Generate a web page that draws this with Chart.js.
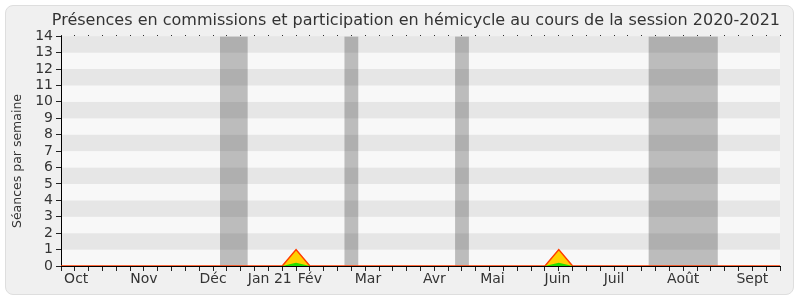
<!DOCTYPE html>
<html>
<head>
<meta charset="utf-8">
<script src="https://cdn.jsdelivr.net/npm/chart.js@4/dist/chart.umd.min.js"></script>
<style>
  html, body { margin: 0; padding: 0; background: #ffffff; }
  #wrap { position: relative; width: 800px; height: 300px; }
  #frame { position: absolute; left: 5px; top: 5px; width: 787px; height: 288px;
           background: #f0f0f0; border: 1px solid #dedede; border-radius: 8px; }
  #c { position: absolute; left: 0; top: 0; }
</style>
</head>
<body>
<div id="wrap">
  <div id="frame"></div>
  <canvas id="c" width="800" height="300"></canvas>
</div>
<script>
// Weeks of the 2020-2021 session, numbered from the first week of October.
const weekIndex = Array.from({ length: 53 }, (_, i) => i);

// Sessions attended per week (commissions + hémicycle)
const presences = [0,0,0,0,0,0,0,0,0,0,0,0,0,0,0,0,0,1,0,0,0,0,0,0,0,0,0,
                   0,0,0,0,0,0,0,0,0,1,0,0,0,0,0,0,0,0,0,0,0,0,0,0,0,0];
// Interventions in the hémicycle per week
const participations = [0,0,0,0,0,0,0,0,0,0,0,0,0,0,0,0,0,0.2,0,0,0,0,0,0,0,0,0,
                        0,0,0,0,0,0,0,0,0,0.2,0,0,0,0,0,0,0,0,0,0,0,0,0,0,0,0];
// Parliamentary recess weeks
const vacances = [12, 13, 21, 29, 43, 44, 45, 46, 47];

// Month labels and where they sit on the week axis
const moisLabels = ['Oct', 'Nov', 'Déc', 'Jan 21', 'Fév', 'Mar', 'Avr', 'Mai', 'Juin', 'Juil', 'Août', 'Sept'];
const moisPos = [1.1, 6, 11, 15.1, 18, 22.2, 27, 31.2, 35.9, 40, 45, 50];

const yTicks = [0,1,2,3,4,5,6,7,8,9,10,11,12,13,14];
const Y_MAX = 14;

const FONT = 'DejaVu Sans';
const TEXT = '#333333';

// Alternating horizontal bands behind the data
const bandsPlugin = {
  id: 'bands',
  beforeDraw(chart) {
    const { ctx, chartArea, scales } = chart;
    const y = scales.y;
    ctx.save();
    for (let i = 0; i < yTicks.length - 1; i++) {
      const top = y.getPixelForValue(yTicks[i + 1]);
      const bot = y.getPixelForValue(yTicks[i]);
      ctx.fillStyle = (i % 2 === 0) ? '#f8f8f8' : '#e6e6e6';
      ctx.fillRect(chartArea.left, top, chartArea.right - chartArea.left, bot - top);
    }
    ctx.restore();
  }
};

// Vertical axis title
const yTitlePlugin = {
  id: 'yTitle',
  afterDraw(chart) {
    const { ctx } = chart;
    ctx.save();
    ctx.translate(18, 161);
    ctx.rotate(-Math.PI / 2);
    ctx.font = '12.5px "' + FONT + '"';
    ctx.fillStyle = TEXT;
    ctx.textAlign = 'center';
    ctx.textBaseline = 'middle';
    ctx.fillText('Séances par semaine', 0, 0);
    ctx.restore();
  }
};

new Chart(document.getElementById('c'), {
  type: 'line',
  data: {
    datasets: [
      {
        label: 'Participation en hémicycle',
        data: weekIndex.map(i => ({ x: i, y: participations[i] })),
        borderWidth: 0,
        backgroundColor: '#22dd00',
        fill: 'origin',
        pointRadius: 0,
        tension: 0,
        order: 1
      },
      {
        label: 'Présences',
        data: weekIndex.map(i => ({ x: i, y: presences[i] })),
        borderColor: '#ff3c00',
        borderWidth: 1.5,
        backgroundColor: '#ffd000',
        fill: 'origin',
        pointRadius: 0,
        tension: 0,
        order: 2
      },
      {
        // recess weeks: full-height step blocks centred on each week
        label: 'Vacances',
        data: weekIndex.map(i => ({ x: i, y: vacances.includes(i) ? Y_MAX : 0 })),
        stepped: 'middle',
        borderWidth: 0,
        backgroundColor: 'rgba(0,0,0,0.24)',
        fill: 'origin',
        pointRadius: 0,
        order: 3
      }
    ]
  },
  options: {
    responsive: false,
    animation: false,
    layout: { padding: { left: 6, right: 20, top: 0, bottom: 12 } },
    plugins: {
      legend: { display: false },
      tooltip: { enabled: false },
      title: {
        display: true,
        text: 'Présences en commissions et participation en hémicycle au cours de la session 2020-2021',
        align: 'end',
        color: TEXT,
        font: { family: FONT, size: 16, weight: 'normal' },
        padding: { top: 11, bottom: 5 }
      }
    },
    scales: {
      x: {
        type: 'linear', position: 'bottom', min: 0, max: 52, weight: 0,
        afterFit: s => { s.height = 5; },
        ticks: { stepSize: 1, display: false },
        grid: { drawOnChartArea: false, drawTicks: true, tickLength: 5, color: '#222' },
        border: { display: true, color: '#000' }
      },
      xm: {
        type: 'linear', position: 'bottom', min: 0, max: 52, weight: 1,
        afterFit: s => { s.height = 17; },
        afterBuildTicks: s => { s.ticks = moisPos.map(v => ({ value: v })); },
        ticks: {
          autoSkip: false, maxRotation: 0, padding: 0, color: TEXT,
          font: { family: FONT, size: 14 },
          callback: (v, i) => moisLabels[i]
        },
        grid: { display: false, drawTicks: false },
        border: { display: false }
      },
      xt: {
        type: 'linear', position: 'top', min: 0, max: 52,
        ticks: { stepSize: 1, display: false },
        grid: { drawOnChartArea: false, drawTicks: true, tickLength: 1, color: '#000' },
        border: { display: false }
      },
      y: {
        type: 'linear', min: 0, max: Y_MAX,
        afterFit: s => { s.width = 55; },
        afterBuildTicks: s => { s.ticks = yTicks.map(v => ({ value: v })); },
        ticks: { autoSkip: false, color: TEXT, padding: 3, font: { family: FONT, size: 14 } },
        grid: { drawOnChartArea: false, drawTicks: true, tickLength: 5, color: '#222' },
        border: { display: true, color: '#000' }
      }
    }
  },
  plugins: [bandsPlugin, yTitlePlugin]
});
</script>
</body>
</html>
